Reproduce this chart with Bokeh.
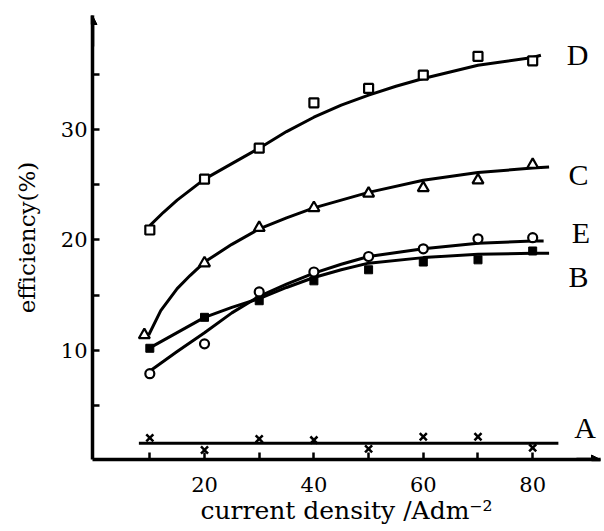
from bokeh.plotting import figure
from bokeh.models import Range1d, FixedTicker, Label, Arrow, NormalHead
from bokeh.embed import file_html
from bokeh.resources import INLINE

# ---- data ----
x_pts = [10, 20, 30, 40, 50, 60, 70, 80]
D_pts = [20.9, 25.5, 28.3, 32.4, 33.7, 34.9, 36.6, 36.2]
C_x = [9, 20, 30, 40, 50, 60, 70, 80]
C_pts = [11.4, 17.9, 21.1, 22.9, 24.2, 24.7, 25.4, 26.8]
E_pts = [7.9, 10.6, 15.3, 17.1, 18.5, 19.2, 20.1, 20.2]
B_pts = [10.2, 13.0, 14.5, 16.3, 17.3, 18.0, 18.2, 19.0]
A_pts = [2.1, 1.0, 2.0, 1.9, 1.1, 2.2, 2.2, 1.2]

# fitted curves
D_cx = [10, 12.5, 15, 20, 25, 30, 35, 40, 45, 50, 55, 60, 70, 80, 81.5]
D_cy = [21.3, 22.5, 23.6, 25.5, 26.9, 28.3, 29.8, 31.1, 32.2, 33.1, 33.9, 34.6, 35.8, 36.5, 36.7]
C_cx = [9.8, 12, 15, 17.4, 20, 25, 30, 35, 40, 50, 60, 70, 80, 83]
C_cy = [11.4, 13.6, 15.6, 16.8, 18.0, 19.6, 21.0, 22.0, 22.9, 24.3, 25.4, 26.1, 26.5, 26.6]
E_cx = [9.9, 15, 20, 25, 30, 35, 40, 45, 50, 60, 70, 80, 82]
E_cy = [8.1, 9.9, 11.6, 13.4, 14.9, 16.0, 17.0, 17.8, 18.5, 19.2, 19.7, 19.9, 19.9]
B_cx = [9.5, 20, 25, 30, 35, 40, 45, 50, 60, 70, 80, 83]
B_cy = [10.1, 13.0, 13.9, 14.7, 15.7, 16.6, 17.3, 17.9, 18.4, 18.7, 18.8, 18.8]
A_cx = [8, 84.7]
A_cy = [1.6, 1.6]

curve_labels = ["D", "C", "E", "B", "A"]
label_x = [88.2, 88.4, 88.8, 88.4, 89.6]
label_y = [36.8, 25.9, 20.7, 16.7, 3.0]

x_ticks = [10, 20, 30, 40, 50, 60, 70, 80]
x_tick_labels = {10: "", 20: "20", 30: "", 40: "40", 50: "", 60: "60", 70: "", 80: "80"}
y_ticks = [5, 10, 15, 20, 25, 30, 35]
y_tick_labels = {5: "", 10: "10", 15: "", 20: "20", 25: "", 30: "30", 35: ""}
x_title = "current density /Adm\u207b\u00b2"
y_title = "efficiency(%)"

SERIF = "DejaVu Serif"

p = figure(width=604, height=531, output_backend="svg", toolbar_location=None,
           x_range=Range1d(-0.48, 92.4), y_range=Range1d(0.14, 40.3),
           min_border_left=92, min_border_right=4, min_border_top=15,
           min_border_bottom=72)
p.outline_line_color = None
p.grid.visible = False
p.background_fill_color = "white"
p.border_fill_color = "white"

for ax in (p.xaxis[0], p.yaxis[0]):
    ax.axis_line_width = 3.5
    ax.axis_line_color = "black"
    ax.major_tick_line_width = 2.5
    ax.major_tick_line_color = "black"
    ax.major_tick_in = 7
    ax.major_tick_out = 0
    ax.minor_tick_line_color = None
    ax.major_label_text_font = SERIF
    ax.major_label_text_color = "black"
    ax.axis_label_text_font = SERIF
    ax.axis_label_text_font_style = "normal"
    ax.axis_label_text_color = "black"

p.xaxis.ticker = FixedTicker(ticks=x_ticks)
p.xaxis.major_label_overrides = x_tick_labels
p.xaxis.major_label_text_font_size = "21px"
p.xaxis.major_label_standoff = 17
p.xaxis.axis_label = x_title
p.xaxis.axis_label_text_font_size = "25px"
p.xaxis.axis_label_standoff = 1

p.yaxis.ticker = FixedTicker(ticks=y_ticks)
p.yaxis.major_label_overrides = y_tick_labels
p.yaxis.major_label_text_font_size = "21px"
p.yaxis.major_label_standoff = 5
p.yaxis.axis_label = y_title
p.yaxis.axis_label_text_font_size = "23px"
p.yaxis.axis_label_standoff = 18

# curves
for cx, cy in ((D_cx, D_cy), (C_cx, C_cy), (E_cx, E_cy), (B_cx, B_cy), (A_cx, A_cy)):
    p.line(cx, cy, line_color="black", line_width=3, line_join="round")

# markers
p.scatter(x_pts, D_pts, marker="square", size=9, fill_color="white",
          line_color="black", line_width=2.2)
p.scatter(C_x, C_pts, marker="triangle", size=11, fill_color="white",
          line_color="black", line_width=2.2)
p.scatter(x_pts, E_pts, marker="circle", size=9, fill_color="white",
          line_color="black", line_width=2.2)
p.scatter(x_pts, B_pts, marker="square", size=8, fill_color="black",
          line_color="black", line_width=1)
p.scatter(x_pts, A_pts, marker="x", size=10, line_color="black", line_width=2.5)

# curve labels
for t, lx, ly in zip(curve_labels, label_x, label_y):
    p.add_layout(Label(x=lx, y=ly, text=t, text_font="Liberation Serif",
                       text_font_size="30px", text_align="center",
                       text_baseline="middle", text_color="black"))

# axis arrows
p.add_layout(Arrow(x_start=-0.48, y_start=37.5, x_end=-0.48, y_end=40.3,
                   line_width=3.5, line_color="black",
                   end=NormalHead(size=9, fill_color="black", line_color="black")))
p.add_layout(Arrow(x_start=88, y_start=0.14, x_end=92.4, y_end=0.14,
                   line_width=3.5, line_color="black",
                   end=NormalHead(size=9, fill_color="black", line_color="black")))

open("out.html", "w").write(file_html(p, INLINE))
